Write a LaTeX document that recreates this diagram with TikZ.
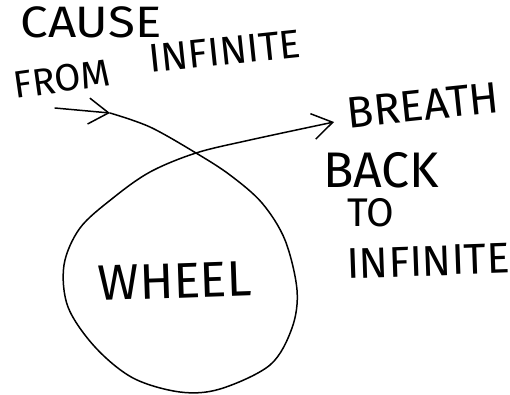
\documentclass[tikz,border=0pt]{standalone}
\usepackage{fontspec}
\newfontfamily\hand{Fira Sans}
\usetikzlibrary{arrows.meta}

\begin{document}
\begin{tikzpicture}[x=1pt,y=-1pt,line cap=round,line join=round,
    wd/.style={inner sep=0pt,font=\hand\fontsize{#1}{#1}\selectfont},
    stroke/.style={line width=1.5pt},
    barb/.style={-{Straight Barb[length=20pt,width=26pt,line width=1.5pt]}}]
  \useasboundingbox (0,0) rectangle (510,394);
  % what comes in
  \node[wd=44,xscale=1.12] (cause) at (91,22) {CAUSE};
  \node[wd=38,rotate=8] (from) at (62,79) {FROM};
  \node[wd=40,rotate=6] (infinite) at (225,51) {INFINITE};
  % what goes out
  \node[wd=44,rotate=6] (breath) at (423,105) {BREATH};
  \node[wd=50] (back) at (381,170) {BACK};
  \node[wd=40] (to) at (371,213) {TO};
  \node[wd=43,rotate=2] (infinite2) at (428,261) {INFINITE};
  % the loop
  \node[wd=50,rotate=2] (wheel) at (175,281) {WHEEL};
  \coordinate (in) at (55,108);
  \coordinate (tip) at (110,113);
  \coordinate (cross) at (196,153);
  \coordinate (out) at (334,122);
  \draw[stroke,barb] (in) -- (tip);
  \draw[stroke,barb] plot[smooth,tension=.55] coordinates {(tip) (150,127) (cross) (230,175)
    (262,203) (285,240) (297,290) (292,328) (270,365) (220,389) (180,392) (133,378) (95,347)
    (68,307) (64,265) (80,228) (113,198) (150,172) (cross) (250,140) (out)};
\end{tikzpicture}
\end{document}
